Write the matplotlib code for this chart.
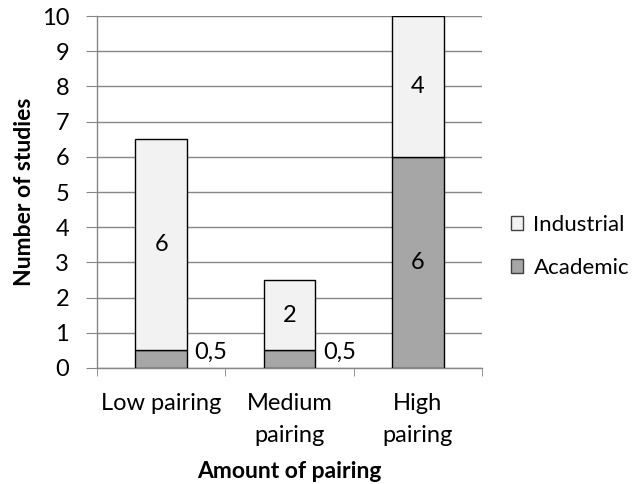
import numpy as np
from matplotlib import pyplot as plt
from matplotlib.patches import Patch

plt.rcParams['font.family'] = ['Lato', 'DejaVu Sans']

categories = ['Low pairing', 'Medium\npairing', 'High\npairing']
academic = [0.5, 0.5, 6]
industrial = [6, 2, 4]

col_ind = '#f2f2f2'
col_acad = '#a6a6a6'
grid_col = '#868686'
fs = 17

def fmt(v):
    s = f'{v:g}'
    return s.replace('.', ',')

fig = plt.figure(figsize=(6.38, 4.84), dpi=100)
ax = fig.add_axes([0.152, 0.2397, 0.6035, 0.727])

x = np.arange(len(categories))
w = 0.4
ax.bar(x, academic, w, color=col_acad, edgecolor='black', linewidth=1, zorder=3)
ax.bar(x, industrial, w, bottom=academic, color=col_ind, edgecolor='black', linewidth=1, zorder=3)

# value labels: small segments get the label beside the bar
for i in range(len(x)):
    a = academic[i]
    if a < 1:
        ax.text(x[i] + w / 2 + 0.06, a * 0.9, fmt(a), ha='left', va='center', fontsize=fs)
    else:
        ax.text(x[i], a / 2, fmt(a), ha='center', va='center', fontsize=fs)
    ax.text(x[i], a + industrial[i] / 2, fmt(industrial[i]), ha='center', va='center', fontsize=fs)

ax.set_xlim(-0.5, 2.5)
ax.set_ylim(0, 10)
ax.set_yticks(np.arange(0, 11, 1))
ax.set_xticks(x)
ax.set_xticklabels(categories, fontsize=fs, linespacing=1.65)
ax.set_xticks(np.arange(-0.5, 3, 1), minor=True)
ax.tick_params(axis='x', which='major', length=0, pad=18)
ax.tick_params(axis='x', which='minor', length=6, color=grid_col)
ax.tick_params(axis='y', length=8, color=grid_col, labelsize=fs, pad=12)
ax.yaxis.grid(True, color=grid_col, linewidth=1, zorder=0)

for s in ['top', 'right']:
    ax.spines[s].set_visible(False)
for s in ['left', 'bottom']:
    ax.spines[s].set_color(grid_col)
    ax.spines[s].set_linewidth(1)

ax.set_ylabel('Number of studies', fontsize=16.5, fontweight='bold', labelpad=5)
ax.set_xlabel('Amount of pairing', fontsize=16.5, fontweight='bold', labelpad=11)

handles = [Patch(facecolor=col_ind, edgecolor='#404040', label='Industrial'),
           Patch(facecolor=col_acad, edgecolor='#404040', label='Academic')]
fig.legend(handles=handles, loc='center left', bbox_to_anchor=(0.77, 0.491),
           frameon=False, fontsize=16, handlelength=0.55, handleheight=0.55,
           handletextpad=0.45, labelspacing=1.05)

fig.savefig('out.png', dpi=100)
